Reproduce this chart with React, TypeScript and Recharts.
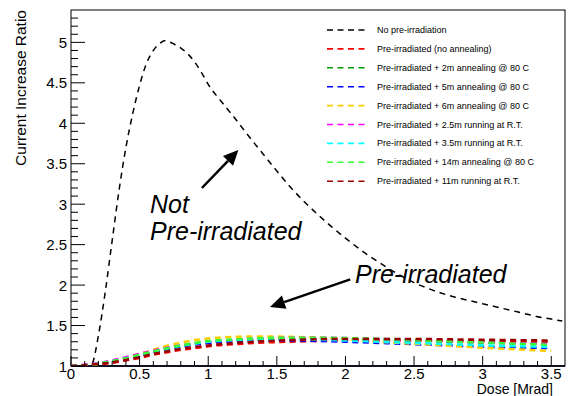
import React from "react";
import { LineChart, Line, XAxis, YAxis, ReferenceLine, Customized } from "recharts";

// ---------- data ----------
const doseGrid = [0, 0.1, 0.2, 0.3, 0.4, 0.5, 0.6, 0.7, 0.8, 0.9, 1.0, 1.2, 1.4, 1.6, 1.8, 2.0, 2.25, 2.5, 2.75, 3.0, 3.25, 3.5];

const blackDose = [0, 0.1, 0.15, 0.2, 0.25, 0.3, 0.35, 0.4, 0.45, 0.5, 0.55, 0.6, 0.65, 0.68, 0.75, 0.8, 0.85, 0.9, 0.95, 1.0, 1.1, 1.2, 1.3, 1.4, 1.5, 1.6, 1.7, 1.8, 1.9, 2.0, 2.1, 2.2, 2.3, 2.4, 2.5, 2.6, 2.7, 2.8, 2.9, 3.0, 3.1, 3.2, 3.3, 3.4, 3.5, 3.58];
const blackValues = [1.0, 1.0, 1.02, 1.38, 1.92, 2.55, 3.17, 3.7, 4.12, 4.47, 4.74, 4.9, 4.99, 5.02, 4.98, 4.93, 4.86, 4.76, 4.63, 4.48, 4.26, 4.05, 3.83, 3.62, 3.41, 3.21, 3.03, 2.87, 2.72, 2.58, 2.45, 2.33, 2.22, 2.12, 2.03, 1.96, 1.9, 1.85, 1.81, 1.77, 1.73, 1.69, 1.65, 1.61, 1.58, 1.555];

const redValues = [1.0, 1.01, 1.02, 1.04, 1.07, 1.1, 1.14, 1.17, 1.2, 1.22, 1.245, 1.27, 1.29, 1.3, 1.31, 1.315, 1.315, 1.315, 1.31, 1.31, 1.305, 1.3];
const greenValues = [1.0, 1.01, 1.03, 1.055, 1.09, 1.13, 1.17, 1.21, 1.245, 1.27, 1.295, 1.32, 1.335, 1.34, 1.34, 1.335, 1.325, 1.315, 1.3, 1.29, 1.28, 1.275];
const blueValues = [1.0, 1.01, 1.03, 1.055, 1.09, 1.13, 1.17, 1.21, 1.24, 1.265, 1.285, 1.305, 1.315, 1.315, 1.31, 1.3, 1.285, 1.27, 1.255, 1.24, 1.23, 1.22];
const yellowValues = [1.0, 1.01, 1.03, 1.06, 1.1, 1.15, 1.2, 1.25, 1.29, 1.32, 1.34, 1.36, 1.365, 1.36, 1.35, 1.33, 1.3, 1.275, 1.25, 1.225, 1.205, 1.185];
const magentaValues = [1.0, 1.015, 1.035, 1.07, 1.11, 1.15, 1.19, 1.225, 1.255, 1.28, 1.3, 1.325, 1.34, 1.35, 1.35, 1.345, 1.335, 1.32, 1.305, 1.29, 1.28, 1.27];
const cyanValues = [1.0, 1.01, 1.03, 1.06, 1.095, 1.135, 1.175, 1.215, 1.25, 1.275, 1.3, 1.32, 1.33, 1.33, 1.325, 1.315, 1.3, 1.285, 1.27, 1.255, 1.245, 1.235];
const lightGreenValues = [1.0, 1.01, 1.03, 1.06, 1.095, 1.14, 1.18, 1.22, 1.255, 1.285, 1.31, 1.33, 1.345, 1.35, 1.35, 1.345, 1.335, 1.32, 1.305, 1.29, 1.275, 1.26];
const darkRedValues = [1.0, 1.01, 1.025, 1.045, 1.075, 1.11, 1.15, 1.18, 1.21, 1.235, 1.255, 1.285, 1.305, 1.32, 1.33, 1.335, 1.335, 1.335, 1.33, 1.325, 1.32, 1.315];

const seriesNames = [
  "No pre-irradiation",
  "Pre-irradiated (no annealing)",
  "Pre-irradiated + 2m annealing @ 80 C",
  "Pre-irradiated + 5m annealing @ 80 C",
  "Pre-irradiated + 6m annealing @ 80 C",
  "Pre-irradiated + 2.5m running at R.T.",
  "Pre-irradiated + 3.5m running at R.T.",
  "Pre-irradiated + 14m annealing @ 80 C",
  "Pre-irradiated + 11m running at R.T.",
];
const seriesColors = ["#000000", "#ff0000", "#009900", "#0000ff", "#ffcc00", "#ff00ff", "#00ffff", "#33ff33", "#990000"];
const coloredValues = [redValues, greenValues, blueValues, yellowValues, magentaValues, cyanValues, lightGreenValues, darkRedValues];

const xTicks = [0, 0.1, 0.2, 0.3, 0.4, 0.5, 0.6, 0.7, 0.8, 0.9, 1, 1.1, 1.2, 1.3, 1.4, 1.5, 1.6, 1.7, 1.8, 1.9, 2, 2.1, 2.2, 2.3, 2.4, 2.5, 2.6, 2.7, 2.8, 2.9, 3, 3.1, 3.2, 3.3, 3.4, 3.5];
const yTicks = [1, 1.1, 1.2, 1.3, 1.4, 1.5, 1.6, 1.7, 1.8, 1.9, 2, 2.1, 2.2, 2.3, 2.4, 2.5, 2.6, 2.7, 2.8, 2.9, 3, 3.1, 3.2, 3.3, 3.4, 3.5, 3.6, 3.7, 3.8, 3.9, 4, 4.1, 4.2, 4.3, 4.4, 4.5, 4.6, 4.7, 4.8, 4.9, 5, 5.1, 5.2, 5.3];

const arrow1 = [{ x: 0.954, y: 3.2 }, { x: 1.22, y: 3.67 }];
const arrow2 = [{ x: 2.035, y: 2.07 }, { x: 1.45, y: 1.73 }];

// ---------- build ----------
const blackData = blackDose.map((d, i) => ({ d, v: blackValues[i] }));
const coloredData = coloredValues.map((vals) => doseGrid.map((d, i) => ({ d, v: vals[i] })));

const FONT = "'Liberation Sans', Arial, Helvetica, sans-serif";
const PLOT = { left: 71, top: 10, right: 565, bottom: 366 };

const isMajor = (v: number) => Math.abs(v * 2 - Math.round(v * 2)) < 1e-6;

const YTick = (props: any) => {
  const { y, payload } = props;
  const v = payload.value;
  const major = isMajor(v);
  return (
    <g>
      <line x1={PLOT.left} y1={y} x2={PLOT.left + (major ? 14 : 7)} y2={y} stroke="#000" strokeWidth={1} />
      {major && (
        <text x={PLOT.left - 4} y={y} textAnchor="end" dominantBaseline="central" fontSize={15} fontFamily={FONT} fill="#000">
          {String(v)}
        </text>
      )}
    </g>
  );
};

const XTick = (props: any) => {
  const { x, payload } = props;
  const v = payload.value;
  const major = isMajor(v);
  return (
    <g>
      <line x1={x} y1={PLOT.bottom} x2={x} y2={PLOT.bottom - (major ? 10 : 5)} stroke="#000" strokeWidth={1} />
      {major && (
        <text x={x} y={PLOT.bottom + 13} textAnchor="middle" fontSize={15} fontFamily={FONT} fill="#000">
          {String(v)}
        </text>
      )}
    </g>
  );
};

const Arrow = (props: any) => {
  const { x1, y1, x2, y2 } = props;
  const dx = x2 - x1;
  const dy = y2 - y1;
  const len = Math.sqrt(dx * dx + dy * dy);
  const ux = dx / len;
  const uy = dy / len;
  const hl = 15;
  const hw = 7;
  const bx = x2 - ux * hl;
  const by = y2 - uy * hl;
  const pts = `${x2},${y2} ${bx - uy * hw},${by + ux * hw} ${bx + uy * hw},${by - ux * hw}`;
  return (
    <g>
      <line x1={x1} y1={y1} x2={bx} y2={by} stroke="#000" strokeWidth={2.5} />
      <polygon points={pts} fill="#000" />
    </g>
  );
};

const Overlay = () => (
  <g>
    <rect x={PLOT.left} y={PLOT.top} width={PLOT.right - PLOT.left} height={PLOT.bottom - PLOT.top} fill="none" stroke="#000" strokeWidth={1} />
    <line x1={PLOT.left} y1={PLOT.bottom} x2={PLOT.right} y2={PLOT.bottom} stroke="#111122" strokeWidth={2} />
    {seriesNames.map((name, i) => {
      const yy = 30 + i * 18.9;
      return (
        <g key={name}>
          <line x1={327} y1={yy} x2={366} y2={yy} stroke={seriesColors[i]} strokeWidth={1.6} strokeDasharray="6 4.5" />
          <text x={377} y={yy} dominantBaseline="central" fontSize={9} fontFamily={FONT} fill="#000">
            {name}
          </text>
        </g>
      );
    })}
    <text x={150} y={213} fontSize={25} fontStyle="italic" fontFamily={FONT} fill="#000">Not</text>
    <text x={150} y={240} fontSize={25} fontStyle="italic" fontFamily={FONT} fill="#000">Pre-irradiated</text>
    <text x={355} y={283} fontSize={25} fontStyle="italic" fontFamily={FONT} fill="#000">Pre-irradiated</text>
    <text x={553} y={394} textAnchor="end" fontSize={14} fontFamily={FONT} fill="#000">Dose [Mrad]</text>
    <text transform="translate(26,10) rotate(-90)" textAnchor="end" fontSize={15.5} fontFamily={FONT} fill="#000">Current Increase Ratio</text>
  </g>
);

export default function App() {
  return (
    <div style={{ position: "absolute", left: 0, top: 0, width: 576, height: 396, background: "#fff" }}>
      <LineChart width={576} height={396} margin={{ top: 10, right: 11, left: 31, bottom: 0 }}>
        <XAxis
          type="number"
          dataKey="d"
          domain={[0, 3.6]}
          ticks={xTicks}
          interval={0}
          tick={<XTick />}
          tickLine={false}
          axisLine={false}
          tickSize={0}
          tickMargin={0}
          height={30}
          allowDataOverflow
        />
        <YAxis
          type="number"
          dataKey="v"
          domain={[1, 5.4]}
          ticks={yTicks}
          interval={0}
          tick={<YTick />}
          tickLine={false}
          axisLine={false}
          tickSize={0}
          tickMargin={0}
          width={40}
          allowDataOverflow
        />
        <Line data={blackData} dataKey="v" type="monotone" stroke={seriesColors[0]} strokeWidth={1.5} strokeDasharray="6 5" dot={false} isAnimationActive={false} />
        {coloredData.map((data, i) => (
          <Line
            key={seriesNames[i + 1]}
            data={data}
            dataKey="v"
            type="monotone"
            stroke={seriesColors[i + 1]}
            strokeWidth={2.5}
            strokeDasharray="6 4.5"
            dot={false}
            isAnimationActive={false}
          />
        ))}
        <ReferenceLine segment={arrow1} shape={<Arrow />} ifOverflow="visible" />
        <ReferenceLine segment={arrow2} shape={<Arrow />} ifOverflow="visible" />
        <Customized component={Overlay} />
      </LineChart>
    </div>
  );
}
